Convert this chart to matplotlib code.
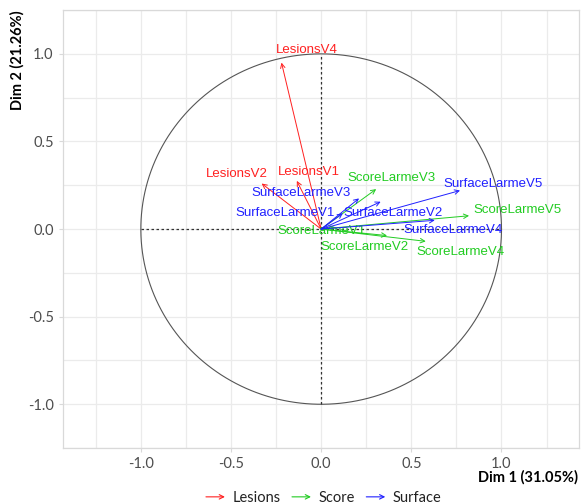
import matplotlib.pyplot as plt
import numpy as np
from matplotlib.legend_handler import HandlerBase
from matplotlib.lines import Line2D
from matplotlib.patches import FancyArrowPatch

# variable coordinates (arrow tips) read from the correlation circle
variables = ["LesionsV4", "LesionsV2", "LesionsV1",
             "ScoreLarmeV1", "ScoreLarmeV2", "ScoreLarmeV3", "ScoreLarmeV4", "ScoreLarmeV5",
             "SurfaceLarmeV1", "SurfaceLarmeV2", "SurfaceLarmeV3", "SurfaceLarmeV4", "SurfaceLarmeV5"]
groups = ["Lesions", "Lesions", "Lesions",
          "Score", "Score", "Score", "Score", "Score",
          "Surface", "Surface", "Surface", "Surface", "Surface"]
dim1 = [-0.22, -0.33, -0.135,
        0.08, 0.365, 0.305, 0.58, 0.82,
        0.12, 0.33, 0.21, 0.63, 0.77]
dim2 = [0.95, 0.26, 0.275,
        0.01, -0.037, 0.228, -0.07, 0.076,
        0.09, 0.156, 0.175, 0.05, 0.22]
# label positions (repelled text)
label_x = [-0.08, -0.47, -0.07,
           0.0, 0.24, 0.39, 0.77, 1.09,
           -0.2, 0.4, -0.11, 0.73, 0.955]
label_y = [1.02, 0.315, 0.326,
           -0.01, -0.10, 0.29, -0.13, 0.11,
           0.094, 0.094, 0.204, -0.005, 0.26]

group_names = ["Lesions", "Score", "Surface"]
group_colors = {"Lesions": "#FF2020", "Score": "#22CC22", "Surface": "#2020FF"}


class HandlerArrow(HandlerBase):
    # thin arrow as legend key, like ggplot's segment key
    def create_artists(self, legend, orig_handle, xdescent, ydescent,
                       width, height, fontsize, trans):
        y = height / 2 - ydescent
        arr = FancyArrowPatch((-xdescent, y), (width - xdescent, y),
                              arrowstyle="->", mutation_scale=8,
                              color=orig_handle.get_color(), lw=0.8,
                              shrinkA=0, shrinkB=0, transform=trans)
        return [arr]


fig = plt.figure(figsize=(5.81, 5.04), dpi=100)
ax = fig.add_axes([0.108, 0.111, 0.888, 0.869])

ax.set_xlim(-1.433, 1.428)
ax.set_ylim(-1.21, 1.21)

major = np.arange(-1.0, 1.01, 0.5)
minor = np.arange(-1.25, 1.26, 0.5)
ax.set_xticks(major)
ax.set_yticks(major)
ax.set_xticks(minor, minor=True)
ax.set_yticks(minor, minor=True)
ax.grid(True, which="both", color="#EBEBEB", linewidth=0.9)
ax.set_axisbelow(True)
for s in ax.spines.values():
    s.set_color("#D9D9D9")
    s.set_linewidth(0.9)
ax.tick_params(which="both", length=3, color="#D9D9D9", labelcolor="#4D4D4D", labelsize=10.5)
ax.tick_params(which="minor", length=0)
ax.set_xticklabels([f"{v:.1f}" for v in major], family="Lato")
ax.set_yticklabels([f"{v:.1f}" for v in major], family="Lato")

# unit circle and dashed axes
t = np.linspace(0, 2 * np.pi, 400)
ax.plot(np.cos(t), np.sin(t), color="#555555", lw=0.8)
ax.plot([-1, 1], [0, 0], color="#333333", lw=0.9, ls=(0, (2, 2)))
ax.plot([0, 0], [-1, 1], color="#333333", lw=0.9, ls=(0, (2, 2)))

for name, g, x, y, lx, ly in zip(variables, groups, dim1, dim2, label_x, label_y):
    c = group_colors[g]
    ax.annotate("", xy=(x, y), xytext=(0, 0),
                arrowprops=dict(arrowstyle="->", color=c, lw=0.7,
                                shrinkA=0, shrinkB=0, mutation_scale=8))
    ax.text(lx, ly, name, color=c, fontsize=9.5, family="Liberation Sans",
            ha="center", va="center")

fig.text(0.995, 0.053, "Dim 1 (31.05%)", ha="right", va="center",
         fontsize=10.5, fontweight="bold", family="Lato")
fig.text(0.030, 0.98, "Dim 2 (21.26%)", ha="center", va="top", rotation=90,
         fontsize=10.5, fontweight="bold", family="Lato")

handles = [Line2D([], [], color=group_colors[g]) for g in group_names]
leg = fig.legend(handles, group_names, loc="center", bbox_to_anchor=(0.557, 0.012),
                 ncol=3, frameon=False, handlelength=1.3, handletextpad=0.5,
                 columnspacing=0.8, prop={"family": "Lato", "size": 10.5},
                 handler_map={Line2D: HandlerArrow()})
for txt in leg.get_texts():
    txt.set_color("#222222")

fig.savefig("out.png", dpi=100)
